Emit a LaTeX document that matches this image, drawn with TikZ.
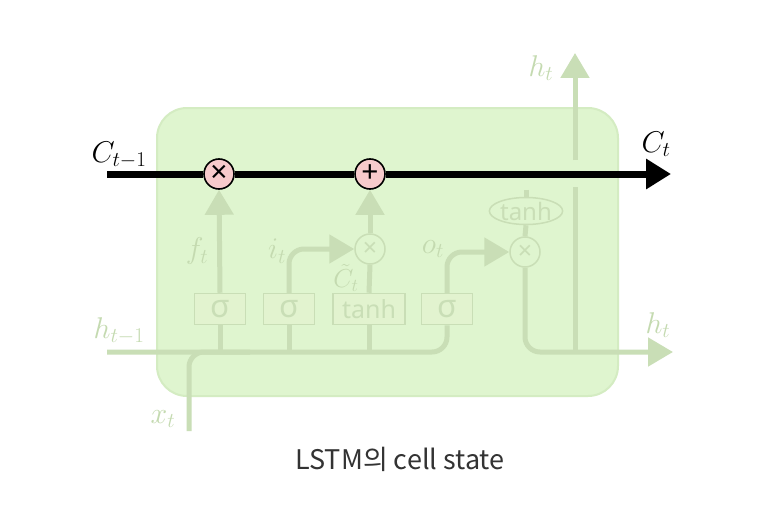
\RequirePackage{fix-cm}
\documentclass[tikz,border=0pt]{standalone}
\usepackage{fontspec}
\usepackage{tikz}
\usetikzlibrary{arrows.meta,shapes.geometric}
\newfontfamily\krfont{Noto Sans CJK KR}
\newfontfamily\gatefont{Noto Sans}
\definecolor{cellbg}{HTML}{DFF5CF}
\definecolor{cellrim}{HTML}{D4ECC2}
\definecolor{fade}{HTML}{C9DEB6}
\definecolor{fadetxt}{HTML}{C4DAB0}
\definecolor{gatebg}{HTML}{E2F3CF}
\definecolor{opink}{HTML}{F7CACB}
\definecolor{capink}{HTML}{333333}
\tikzset{
  cellbox/.style={draw=cellrim, line width=2pt, fill=cellbg, rounded corners=30pt},
  gate/.style={draw=fade, line width=1.5pt, fill=gatebg, minimum width=51pt, minimum height=31pt, inner sep=0pt, font=\gatefont\fontsize{32}{32}\selectfont, text=fade},
  tgate/.style={gate, minimum width=72pt, font=\gatefont\fontsize{25}{25}\selectfont},
  op/.style={circle, draw=black, line width=1.6pt, fill=opink, minimum size=30pt, inner sep=0pt, font=\gatefont\fontsize{30}{30}\selectfont},
  fop/.style={circle, draw=fade, line width=1.5pt, fill=cellbg, minimum size=30pt, inner sep=0pt, font=\gatefont\fontsize{25}{20}\selectfont, text=fade},
  fell/.style={ellipse, draw=fade, line width=1.5pt, fill=cellbg, minimum width=72pt, minimum height=27pt, inner sep=0pt, font=\gatefont\fontsize{24}{24}\selectfont, text=fade},
  flow/.style={draw=fade, line width=5pt},
  farr/.style={flow, -{Triangle[length=25pt, width=28pt]}},
  carr/.style={draw=black, line width=7pt, -{Triangle[length=25pt, width=29pt]}},
  lbl/.style={font=\fontsize{30}{30}\selectfont, text=fadetxt, inner sep=0pt},
  clbl/.style={font=\fontsize{30}{30}\selectfont, inner sep=0pt},
}
\begin{document}
\begin{tikzpicture}[x=1pt, y=-1pt]
  \useasboundingbox (0,0) rectangle (763,519);
  \fill[white] (0,0) rectangle (763,519);
  \path[cellbox] (157,108) rectangle (618,396);

  % gates
  \node[gate] (sgf) at (220,309) {σ};
  \node[gate] (sgi) at (289,309) {σ};
  \node[tgate] (tnc) at (369,309) {tanh};
  \node[gate] (sgo) at (447,309) {σ};
  \node[fop] (mi) at (370,249) {×};
  \node[fop] (mo) at (525,252) {×};
  \node[fell] (tno) at (526,211) {tanh};

  % cell state ops
  \node[op] (mf) at (219,174) {×};
  \node[op] (ad) at (370,174) {+};

  % loose ends
  \coordinate (cin) at (107,174);
  \coordinate (cout) at (671,174);
  \coordinate (hin) at (107,352);
  \coordinate (xin) at (189,431);
  \coordinate (hout) at (673,352);
  \coordinate (htop) at (575,53);
  \coordinate (hup) at (575,352);

  % input lines
  \draw[flow, rounded corners=15pt] (hin) -| (sgo.south);
  \draw[flow, rounded corners=15pt] (xin) |- (250,352);
  \draw[flow] (sgf.south |- hin) -- (sgf.south);
  \draw[flow] (sgi.south |- hin) -- (sgi.south);
  \draw[flow] (tnc.south |- hin) -- (tnc.south);

  % gate outputs
  \draw[farr] (sgf.north) -- (mf.south);
  \draw[farr, rounded corners=15pt] (sgi.north) |- (mi.west);
  \draw[flow] (tnc.north) -- (mi.south);
  \draw[farr] (mi.north) -- (ad.south);
  \draw[farr, rounded corners=15pt] (sgo.north) |- (mo.west);
  \draw[flow] (tno.north |- mf.south) -- (tno.north);
  \draw[flow] (tno.south) -- (mo.north);
  \draw[farr, rounded corners=15pt] (mo.south) |- (hout);
  \draw[flow] (hup) -- (575,187);
  \draw[farr] (575,160) -- (htop);

  % cell state
  \draw[carr] (cin) -- (mf.west) (mf.east) -- (ad.west) (ad.east) -- (cout);
  \draw[line width=7pt] (cin) -- (mf.west);
  \draw[line width=7pt] (mf.east) -- (ad.west);

  % labels
  \node[clbl] (lcin) at (119,155) {$C_{t-1}$};
  \node[clbl] (lcout) at (656,144) {$C_t$};
  \node[lbl] (lf) at (197,251) {$f_t$};
  \node[lbl] (li) at (277,251) {$i_t$};
  \node[lbl, font=\fontsize{26}{26}\selectfont] (lct) at (346,278) {$\tilde{C}_t$};
  \node[lbl] (lo) at (433,249) {$o_t$};
  \node[lbl] (lhtop) at (541,68) {$h_t$};
  \node[lbl] (lhout) at (658,325) {$h_t$};
  \node[lbl] (lhin) at (119,331) {$h_{t-1}$};
  \node[lbl] (lx) at (163,419) {$x_t$};

  \node[font=\krfont\fontsize{27}{27}\selectfont, text=capink] (cap) at (400,459) {LSTM의 cell state};
\end{tikzpicture}
\end{document}
